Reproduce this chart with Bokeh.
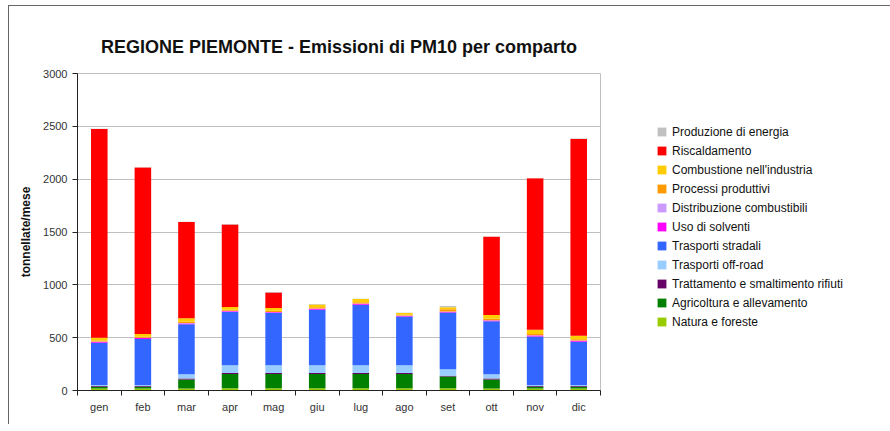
from bokeh.plotting import figure
from bokeh.models import ColumnDataSource, Legend, LegendItem, FixedTicker, Range1d
from bokeh.embed import file_html
from bokeh.resources import INLINE

months = ["gen", "feb", "mar", "apr", "mag", "giu", "lug", "ago", "set", "ott", "nov", "dic"]

# stacked bottom -> top
natura = [20, 20, 20, 22, 22, 22, 22, 22, 22, 20, 20, 20]
agricoltura = [15, 15, 85, 135, 135, 135, 135, 135, 110, 85, 15, 15]
trattamento = [8, 8, 8, 8, 8, 8, 8, 8, 8, 8, 8, 8]
offroad = [10, 10, 40, 73, 73, 73, 73, 73, 60, 40, 10, 10]
stradali = [399, 435, 474, 505, 495, 527, 574, 462, 537, 502, 459, 409]
solventi = [8, 8, 8, 8, 8, 8, 8, 6, 8, 8, 8, 8]
distribuzione = [3, 3, 3, 3, 3, 3, 3, 3, 3, 3, 3, 3]
processi = [10, 10, 12, 10, 10, 12, 12, 8, 20, 14, 12, 12]
combustione = [27, 26, 33, 26, 26, 27, 31, 16, 20, 35, 40, 34]
riscaldamento = [1975, 1575, 911, 782, 148, 0, 0, 0, 0, 740, 1434, 1862]
energia = [3, 3, 3, 3, 3, 3, 3, 3, 12, 3, 3, 3]

series_keys = ["natura", "agricoltura", "trattamento", "offroad", "stradali",
               "solventi", "distribuzione", "processi", "combustione",
               "riscaldamento", "energia"]
series_labels = ["Natura e foreste", "Agricoltura e allevamento",
                 "Trattamento e smaltimento rifiuti", "Trasporti off-road",
                 "Trasporti stradali", "Uso di solventi", "Distribuzione combustibili",
                 "Processi produttivi", "Combustione nell'industria",
                 "Riscaldamento", "Produzione di energia"]
series_colors = ["#99cc00", "#008000", "#660066", "#99ccff", "#3366ff",
                 "#ff00ff", "#cc99ff", "#ff9900", "#ffcc00", "#ff0000", "#c0c0c0"]

y_ticks = [0, 500, 1000, 1500, 2000, 2500, 3000]

FONT = "Liberation Sans"

x = [i + 0.5 for i in range(len(months))]
src = ColumnDataSource(dict(
    x=x, natura=natura, agricoltura=agricoltura, trattamento=trattamento,
    offroad=offroad, stradali=stradali, solventi=solventi,
    distribuzione=distribuzione, processi=processi, combustione=combustione,
    riscaldamento=riscaldamento, energia=energia))

p = figure(frame_width=523, frame_height=317, x_range=Range1d(0, len(months)),
           y_range=Range1d(0, 3000), output_backend="svg", toolbar_location=None,
           min_border_left=68, min_border_right=0, min_border_top=67,
           min_border_bottom=34,
           title="REGIONE PIEMONTE - Emissioni di PM10 per comparto")

p.styles = {"margin-left": "8px", "margin-top": "5px",
            "border-top": "1px solid #666666", "border-left": "1px solid #666666"}

p.title.text_font = FONT
p.title.text_font_size = "18px"
p.title.text_font_style = "bold"
p.title.text_color = "#111111"
p.title.align = "center"
p.title.standoff = 34

renderers = p.vbar_stack(series_keys, x="x", width=0.38, source=src,
                         fill_color=series_colors, line_color=None)

# axes
xa = p.xaxis[0]
xa.ticker = FixedTicker(ticks=x, minor_ticks=list(range(len(months) + 1)))
xa.major_label_overrides = {xi: m for xi, m in zip(x, months)}
xa.major_tick_line_color = None
xa.major_tick_out = 0
xa.major_tick_in = 0
xa.minor_tick_out = 5
xa.minor_tick_in = 0
xa.minor_tick_line_color = "#222222"
xa.axis_line_color = "#222222"
xa.major_label_standoff = 5
xa.major_label_text_font = FONT
xa.major_label_text_font_size = "11px"
xa.major_label_text_color = "#333333"

ya = p.yaxis[0]
ya.ticker = FixedTicker(ticks=y_ticks)
ya.major_tick_out = 5
ya.major_tick_in = 0
ya.minor_tick_line_color = None
ya.major_tick_line_color = "#222222"
ya.axis_line_color = "#222222"
ya.major_label_standoff = 5
ya.major_label_text_font = FONT
ya.major_label_text_font_size = "11px"
ya.major_label_text_color = "#333333"
ya.axis_label = "tonnellate/mese"
ya.axis_label_text_font = FONT
ya.axis_label_text_font_size = "12px"
ya.axis_label_text_font_style = "bold"
ya.axis_label_text_color = "#111111"
ya.axis_label_standoff = 7

p.xgrid.grid_line_color = None
p.ygrid.grid_line_color = "#c0c0c0"
p.outline_line_color = "#c0c0c0"
p.background_fill_color = "white"
p.border_fill_color = "white"

items = [LegendItem(label=series_labels[i], renderers=[renderers[i]])
         for i in reversed(range(len(series_keys)))]
legend = Legend(items=items, location=(56, 61), padding=0, margin=0,
                border_line_color=None, background_fill_alpha=0,
                glyph_width=11, glyph_height=11, label_height=15, spacing=4,
                label_standoff=5, label_text_font=FONT,
                label_text_font_size="12px", label_text_color="#111111")
p.add_layout(legend, "right")

open("out.html", "w").write(file_html(p, INLINE))
